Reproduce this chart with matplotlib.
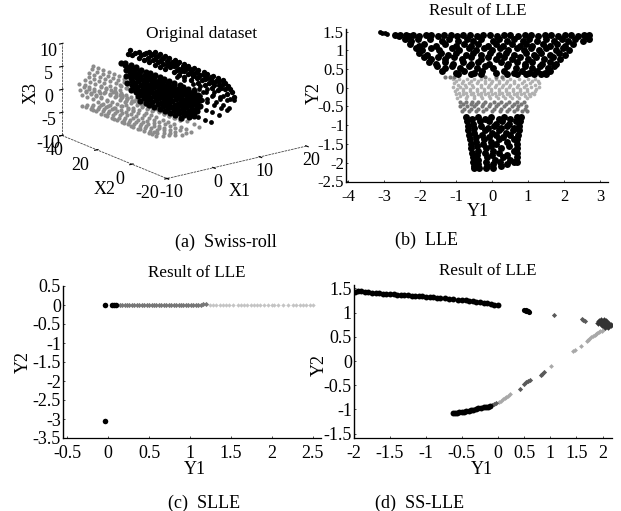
import numpy as np
import matplotlib
matplotlib.use("Agg")
import matplotlib.pyplot as plt
from matplotlib.scale import FuncScale

plt.rcParams['font.family'] = ['Liberation Serif', 'DejaVu Serif']
plt.rcParams['font.size'] = 13
plt.rcParams['axes.unicode_minus'] = False
W, H = 621, 511

# ---------- (a) Swiss roll: strands of (X1, X3, X2 values) ----------
roll_top = [
    (4.3, 7.1, [-14,-11,-8.5,-5,-3,0,2.5,6,8,11,13.5,17,19,22,25]),
    (4.3, 6.6, [-15,-12,-7,-3,1,5,9,12,15,20,23,26,28]),
    (4.3, 6.2, [-17,-14,-10,-7,-5,-1,2,4,7,9,13,15,18,21,24,27,30]),
    (4.3, 5.7, [-18,-12,-8,-4,0,5,8,11,14,17,22,25,31,34]),
    (4.3, 5.3, [-19,-15,-13,-9,-6,-2,1,3,6,10,12,16,18,20,23,26,29,33,36,39]),
    (4.3, 4.4, [-20,-16,-11,-8,-4,0,4,8,11,14,19,22,25,28,31,34,38,40]),
]
roll_core = [
    (-2.0, 6.2, [-14,-11,-8,-6,-3,0,3,5,8,11,13,16,19,22,25]),
    (-1.8, 5.6, [-16,-13,-10,-7,-2,1,4,6,9,12,14,17,20,23,26,28]),
    (-1.6, 5.1, [-15,-12,-9,-6,-4,-1,2,5,7,10,13,15,18,21,24]),
    (-1.8, 4.6, [-17,-14,-11,-8,-5,-2,0,3,6,8,11,14,17,20,23,25]),
    (-2.0, 4.1, [-16,-13,-10,-7,-4,-1,2,4,7,10,13,16,19,22]),
    (-2.2, 3.6, [-18,-15,-12,-9,-6,-3,0,3,5,8,11,14,17,21,24]),
    (-2.5, 3.1, [-17,-14,-11,-8,-5,-2,1,4,6,9,12,15,18,20]),
    (-2.8, 2.6, [-18,-15,-12,-9,-7,-4,-1,2,5,7,10,13,16,19,22]),
    (-3.1, 2.2, [-17,-14,-11,-8,-6,-3,0,3,6,9,11,14,17]),
    (-3.4, 1.7, [-18,-15,-12,-9,-5,-2,1,4,7,10,12,15,18]),
    (-3.7, 1.3, [-16,-13,-10,-7,-4,-1,2,5,8,10,13]),
    (-4.8, 1.1, [-14,-11,-8,-5,-2,1,4,6,9]),
]
roll_side = [
    (4.3, 3.7, [-20,-18,-14,-9,-5,-1,3,8,12]),
    (3.6, 2.1, [-19,-16,-12,-7,-3,2,6]),
    (2.8, 1.9, [-20,-17,-13,-9,-6,0]),
    (2.9, 4.0, [-20,-16,-12,-8,-4]),
    (1.5, 4.5, [-20,-15,-10,-5]),
    (1.5, 0.9, [-19,-15,-12,-7,-3]),
    (-0.6, 0.1, [-20,-17,-13,-10]),
]
roll_gray = [
    (-9.4, -2.1, [-12,-10,-8,-5,-3,-2,1,2,4,6,7,10,12,13,16,17,19,22,24,25,28,30]),
    (-8.7, -1.9, [-14,-11,-9,-7,-4,-1,2,5,8,11,14,17,20,23,26,29]),
    (-8.1, -1.7, [-16,-13,-9,-6,-3,0,3,6,9,12,15,18,21,24,27]),
    (-7.2, -1.6, [-17,-14,-11,-8,-5,-2,1,4,7,10,13,16,19,22,25]),
    (-6.4, -1.5, [-19,-15,-12,-9,-6,-3,1,4,7,10,13,16,19,22]),
    (-5.6, -1.2, [-19,-16,-13,-10,-7,-4,-1,2,5,8,11,14,18]),
    (-4.8, -1.0, [-20,-17,-14,-10,-7,-4,0,3,6,10,13,17]),
    (-3.1, -0.3, [-20,-17,-13,-10,-6,-3,1,4,8,11]),
    (-8.3, 0.7, [4,7,10,13,16,19,22,25,28,31]),
    (-8.0, 1.7, [9,12,15,18,21,24,27,30,32]),
    (-7.7, 2.7, [12,15,18,21,24,27,30,33]),
    (-6.9, 3.1, [15,18,21,24,27,30,33]),
    (-6.0, 3.5, [14,17,20,23,26,29,32,35]),
    (-5.0, 3.8, [18,21,24,27,30,33,36]),
    (-4.1, 4.1, [20,23,26,29,32,35,38]),
    (-2.7, 1.5, [6,10,14,18,22,26]),
    (-5.8, 1.2, [2,6,10,14,18,22,26,29]),
    (-9.4, 2.2, [20,23,26,29,32]),
    (-9.4, 0.2, [12,15,18,21,24,27,30]),
    (-9.4, 1.2, [16,19,22,25,28,31]),
    (-8.3, 3.4, [-19,-16,-13,-10,-7,-4,-1,2,5,8,11,14]),
    (-7.3, 2.1, [-20,-17,-14,-11,-8,-5,-2,1,4,7,10,13]),
    (-6.5, 1.5, [-18,-15,-12,-9,-6,-3,0,3,6,9,12,15]),
    (-8.6, 2.4, [-8,-5,-2,1,4,7,10,13,16,19]),
]
x1_ticks = [-10, 0, 10, 20]
x2_ticks = [-20, 0, 20, 40]
x3_ticks = [-10, -5, 0, 5, 10]

# ---------- (b) LLE: rows of (Y2, Y1 values) ----------
lle_streak_x = [-3.12, -3.05, -2.98, -2.92]
lle_streak_y = [1.49, 1.47, 1.45, 1.44]
lle_top = [
    (1.42, [-2.7,-2.55,-2.4,-2.2,-1.85,-1.7,-1.33,-1.15,-0.8,-0.62,-0.25,-0.05,0.32,0.5,0.9,1.08,1.46,1.65,2.02,2.2,2.55,2.7]),
    (1.37, [-2.6,-2.3,-2.02,-1.5,-0.98,-0.42,0.14,0.72,1.28,1.82,2.38,2.62]),
    (1.30, [-2.42,-2.05,-1.72,-1.2,-0.7,-0.3,0.2,0.62,1.02,1.5,1.95,2.3,2.68]),
    (1.24, [-2.25,-1.4,-0.95,-0.52,0.02,0.42,0.85,1.25,1.72,2.12,2.52]),
    (1.18, [-2.28,-1.88,-1.3,-0.78,-0.4,0.1,0.55,0.95,1.4,1.8,2.25]),
    (1.12, [-2.02,-1.55,-1.0,-0.58,-0.12,0.3,0.78,1.12,1.62,2.02]),
    (1.06, [-2.12,-1.7,-1.12,-0.65,-0.22,0.22,0.7,1.08,1.5,1.98]),
    (1.00, [-1.95,-1.48,-0.92,-0.45,0.0,0.45,0.88,1.3,1.78,2.15]),
    (0.94, [-2.02,-1.42,-1.0,-0.52,-0.05,0.38,0.95,1.35,1.85]),
    (0.88, [-1.82,-1.22,-0.72,-0.3,0.18,0.62,1.15,1.62,2.02]),
    (0.82, [-1.9,-1.5,-1.05,-0.6,-0.12,0.32,0.78,1.22,1.68]),
    (0.76, [-1.7,-1.3,-0.85,-0.32,0.12,0.55,1.0,1.45,1.88]),
    (0.70, [-1.75,-1.32,-0.8,-0.38,0.25,0.7,1.12,1.6]),
    (0.64, [-1.55,-1.1,-0.58,-0.1,0.45,0.92,1.38,1.78]),
    (0.58, [-1.52,-1.12,-0.65,-0.2,0.4,0.9,1.32,1.72]),
    (0.52, [-1.3,-0.9,-0.42,0.02,0.65,1.1,1.55]),
    (0.46, [-1.4,-0.78,-0.28,0.32,0.82,1.25,1.62]),
    (0.40, [-1.0,-0.5,0.12,0.62,1.02,1.48]),
    (0.36, [-0.95,-0.6,-0.3,0.42,0.7,0.95,1.15,1.35,1.5]),
]
lle_lower = [
    (-0.78, [-0.72,-0.38,-0.02,0.32,0.68,0.8]),
    (-0.84, [-0.55,-0.2,0.18,0.5]),
    (-0.90, [-0.7,-0.35,-0.1,0.28,0.66,0.78]),
    (-0.96, [-0.52,0.1,0.48]),
    (-1.02, [-0.68,-0.3,0.05,0.42,0.76]),
    (-1.08, [-0.5,-0.12,0.25,0.62]),
    (-1.14, [-0.66,-0.2,0.18,0.58,0.74]),
    (-1.20, [-0.5,0.0,0.38]),
    (-1.26, [-0.64,-0.28,0.12,0.5,0.72]),
    (-1.32, [-0.46,-0.08,0.3]),
    (-1.38, [-0.62,-0.22,0.2,0.6,0.7]),
    (-1.44, [-0.45,-0.02,0.42]),
    (-1.50, [-0.6,-0.25,0.12,0.7]),
    (-1.56, [-0.42,-0.02,0.48]),
    (-1.62, [-0.58,-0.18,0.25,0.7]),
    (-1.68, [-0.4,0.02,0.6]),
    (-1.74, [-0.56,-0.2,0.2,0.68]),
    (-1.80, [-0.42,0.0,0.42]),
    (-1.86, [-0.54,-0.15,0.3,0.7]),
    (-1.92, [-0.38,0.08,0.5]),
    (-1.98, [-0.52,-0.18,0.22,0.6,0.7]),
    (-2.04, [-0.38,0.02,0.42]),
    (-2.10, [-0.5,-0.15,0.25]),
    (-2.15, [-0.5,-0.36,-0.16,0.02]),
]
lle_gray_light = [
    (0.24, [-1.1,-0.92,-0.7,-0.5,-0.32,-0.1,0.1,0.3,0.5,0.75,1.0,1.2]),
    (0.18, [-1.0,-0.8,-0.6,-0.4,-0.2,0.0,0.2,0.4,0.62,0.88,1.1,1.28]),
    (0.12, [-1.05,-0.85,-0.65,-0.42,-0.2,-0.02,0.2,0.38,0.6,0.82,1.05,1.3]),
    (0.07, [-0.95,-0.75,-0.55,-0.3,-0.1,0.1,0.3,0.5,0.72,0.95,1.18]),
    (0.02, [-1.08,-0.9,-0.72,-0.52,-0.32,-0.12,0.08,0.28,0.48,0.68,0.88,1.08,1.3]),
    (-0.03, [-0.98,-0.8,-0.62,-0.42,-0.22,-0.02,0.18,0.38,0.58,0.78,0.98,1.22]),
    (-0.08, [-1.02,-0.82,-0.62,-0.42,-0.22,-0.02,0.18,0.38,0.58,0.78,0.98,1.2]),
    (-0.13, [-0.92,-0.72,-0.52,-0.32,-0.12,0.08,0.28,0.48,0.68,0.88,1.1]),
    (-0.18, [-1.0,-0.8,-0.6,-0.4,-0.2,0.0,0.2,0.4,0.6,0.8,1.02,1.15]),
    (-0.23, [-0.9,-0.7,-0.5,-0.3,-0.1,0.1,0.3,0.5,0.7,0.92,1.05]),
    (-0.28, [-0.98,-0.72,-0.5,-0.28,-0.05,0.15,0.35,0.55,0.75,0.98]),
]
lle_gray_dark = [
    (0.30, [-1.3,-1.18,-1.05,-0.2,0.1,0.28]),
    (-0.38, [-0.9,-0.72,-0.55,-0.38,-0.2,0.05,0.25,0.48,0.7,0.88]),
    (-0.44, [-0.8,-0.6,-0.45,-0.25,-0.05,0.15,0.38,0.6,0.8]),
    (-0.50, [-0.88,-0.7,-0.5,-0.28,-0.1,0.12,0.32,0.55,0.72,0.95]),
    (-0.56, [-0.78,-0.58,-0.38,-0.18,0.05,0.25,0.48,0.68,0.9]),
    (-0.62, [-0.85,-0.65,-0.45,-0.25,0.0,0.22,0.42,0.6,0.82,0.98]),
]
lle_xticks = [-4, -3, -2, -1, 0, 1, 2, 3]
lle_yticks = [1.5, 1, 0.5, 0, -0.5, -1, -1.5, -2, -2.5]

# ---------- (c) SLLE ----------
slle_black_x = [-0.04, 0.05, 0.07, 0.09, -0.04]
slle_black_y = [0.0, 0.0, 0.0, 0.0, -3.05]
slle_dark_x = [0.14,0.17,0.2,0.23,0.26,0.29,0.32,0.35,0.38,0.41,0.44,0.47,0.5,0.53,0.56,0.59,0.62,0.65,0.68,0.71,0.74,0.77,0.8,0.83,0.86,0.89,0.92,0.95,0.98,1.01,1.04,1.07,1.1,1.13,1.16,1.2]
slle_dark_y = [0.0,-0.01,0.0,-0.01,0.0,0.0,0.01,0.0,-0.01,0.0,0.0,0.0,0.0,0.0,-0.01,0.0,0.0,-0.01,0.0,0.0,-0.01,-0.01,-0.01,0.0,-0.01,-0.01,0.0,-0.01,0.0,0.0,0.0,0.0,0.01,0.01,0.02,0.02]
slle_light_x = [1.24,1.28,1.32,1.36,1.4,1.44,1.48,1.52,1.58,1.62,1.66,1.7,1.74,1.78,1.82,1.86,1.9,1.95,2.0,2.03,2.08,2.14,2.2,2.26,2.3,2.34,2.38,2.42,2.46,2.5]
slle_light_y = [0.01,0.01,0.0,0.0,0.0,0.0,0.0,0.01,0.0,0.0,0.0,0.0,0.0,0.0,0.0,0.0,0.0,0.0,0.0,0.0,0.0,0.0,0.0,0.0,-0.01,0.0,0.0,-0.01,0.0,0.0]
slle_xticks = [-0.5, 0, 0.5, 1, 1.5, 2, 2.5]
slle_yticks = [0.5, 0, -0.5, -1, -1.5, -2, -2.5, -3, -3.5]

# ---------- (d) SS-LLE ----------
ss_upper_x = [-1.98,-1.94,-1.9,-1.85,-1.8,-1.75,-1.7,-1.65,-1.6,-1.55,-1.5,-1.45,-1.4,-1.35,-1.3,-1.25,-1.2,-1.15,-1.1,-1.05,-1.0,-0.95,-0.9,-0.85,-0.8,-0.74,-0.68,-0.62,-0.56,-0.5,-0.45,-0.4,-0.35,-0.3,-0.25,-0.2,-0.15,-0.1,-0.05,0.0]
ss_upper_y = [1.43,1.44,1.44,1.43,1.42,1.41,1.41,1.4,1.39,1.39,1.38,1.38,1.37,1.37,1.36,1.36,1.35,1.35,1.34,1.34,1.33,1.33,1.32,1.31,1.3,1.3,1.29,1.28,1.27,1.26,1.25,1.24,1.23,1.22,1.21,1.2,1.19,1.18,1.16,1.15]
ss_lower_x = [-0.62,-0.6,-0.57,-0.54,-0.5,-0.47,-0.44,-0.4,-0.37,-0.34,-0.3,-0.27,-0.24,-0.2,-0.17,-0.14,-0.11]
ss_lower_y = [-1.07,-1.07,-1.07,-1.06,-1.05,-1.05,-1.04,-1.03,-1.02,-1.01,-1.0,-0.98,-0.97,-0.96,-0.95,-0.94,-0.92]
ss_black_x = [0.5, 0.53, 0.57, 0.6, 0.54]
ss_black_y = [1.05, 1.04, 1.03, 1.02, 1.06]
ss_mid_x = [-0.08,-0.05,-0.02,1.07,1.6,1.63,1.66,0.42,0.5,0.54,0.58,0.62,0.82,0.85,0.88]
ss_mid_y = [-0.91,-0.89,-0.87,0.96,0.87,0.85,0.83,-0.57,-0.47,-0.44,-0.41,-0.39,-0.28,-0.26,-0.23]
ss_light_x = [0.02,0.06,0.1,0.13,0.16,0.2,0.24,1.01,1.44,1.47,1.58,1.7,1.72,1.75,1.78,1.82,1.85,1.88,1.9,1.93,1.96,1.98,2.02,2.05,2.08,2.1,2.12]
ss_light_y = [-0.84,-0.82,-0.79,-0.77,-0.75,-0.72,-0.69,-0.11,0.2,0.22,0.31,0.42,0.44,0.46,0.49,0.51,0.53,0.55,0.57,0.59,0.61,0.63,0.66,0.68,0.7,0.73,0.75]
ss_knot_x = [1.93,1.97,2.02,2.06,1.92,1.97,2.02,2.07,2.12,1.98,2.03,2.08,2.13,2.16,2.05,2.1]
ss_knot_y = [0.83,0.84,0.84,0.83,0.78,0.79,0.79,0.78,0.77,0.74,0.74,0.74,0.74,0.75,0.7,0.7]
ss_xticks = [-2, -1.5, -1, -0.5, 0, 0.5, 1, 1.5, 2]
ss_yticks = [1.5, 1, 0.5, 0, -0.5, -1, -1.5]
ss_scale_in = [-2, 0, 2.2]       # tick spacing in the source is uneven
ss_scale_out = [-2, 0, 1.6]


def rows(r):
    xs = [x for y, v in r for x in v]
    ys = [y for y, v in r for _ in v]
    return xs, ys


def strands(r):
    a, b, c = [], [], []
    for x1, x3, x2s in r:
        for x2 in x2s:
            a.append(x1); b.append(x2); c.append(x3)
    return a, b, c


def make_ax(l, t, r, b, size=13):
    ax = fig.add_axes([l / W, 1 - b / H, (r - l) / W, (b - t) / H])
    for s in ('top', 'right'):
        ax.spines[s].set_visible(False)
    ax.spines['left'].set_linewidth(1.0)
    ax.spines['bottom'].set_linewidth(0.9)
    ax.tick_params(direction='in', length=1.5, width=0.5, labelsize=size)
    ax.tick_params(axis='x', pad=5)
    ax.tick_params(axis='y', pad=1.5)
    return ax


def style(ax, title, tx, ty, xl, xlx, xly, yl, ylx, yly, rect):
    l, t, r, b = rect
    ax.set_title(title, x=(tx - l) / (r - l), y=(b - ty) / (b - t), va='center', fontsize=12.3)
    ax.set_xlabel(xl, fontsize=13)
    ax.set_ylabel(yl, fontsize=13)
    ax.xaxis.set_label_coords((xlx - l) / (r - l), (b - xly) / (b - t))
    ax.yaxis.set_label_coords((ylx - l) / (r - l), (b - yly) / (b - t))
    ax.xaxis.label.set_va('center')
    ax.yaxis.label.set_va('center')


fig = plt.figure(figsize=(W / 100, H / 100), dpi=100, facecolor='white')

# (a)
ax = fig.add_axes([7 / W, 0.568, 0.56, 0.48], projection='3d', proj_type='ortho')
ax.computed_zorder = False
ax.view_init(elev=18, azim=-127)
ax.set_box_aspect((179, 179, 99), zoom=1.05)
ax.patch.set_alpha(0)
ax.grid(False)
for axis in (ax.xaxis, ax.yaxis, ax.zaxis):
    axis.set_pane_color((1, 1, 1, 0))
    axis.pane.set_edgecolor((1, 1, 1, 0))
    axis.line.set_color('#444444')
    axis.line.set_linewidth(0.6)
    axis.line.set_linestyle((0, (3, 1)))
a, b, c = strands(roll_gray)
ax.scatter(a, b, c, s=9, c='#8c8c8c', linewidths=0, depthshade=False, zorder=1)
a, b, c = strands(roll_core)
ax.scatter(a, b, c, s=20, c='black', linewidths=0, depthshade=False, zorder=2)
a, b, c = strands(roll_side)
ax.scatter(a, b, c, s=12, c='black', linewidths=0, depthshade=False, zorder=3)
a, b, c = strands(roll_top)
ax.scatter(a, b, c, s=15, c='black', linewidths=0, depthshade=False, zorder=4)
ax.set_xlim(-10, 20); ax.set_ylim(-20, 40); ax.set_zlim(-10, 10)
ax.set_xticks(x1_ticks); ax.set_yticks(x2_ticks); ax.set_zticks(x3_ticks)
ax.tick_params(labelsize=13, length=0)
ax.tick_params(axis='x', pad=-4)
ax.tick_params(axis='y', pad=-3)
ax.tick_params(axis='z', pad=-3)
for tick in ax.yaxis.get_major_ticks()[:3]:
    tick.label1.set_ha('right')
fig.text(202 / W, 1 - 34 / H, 'Original dataset', ha='center', va='center', fontsize=12.5)
fig.text(240 / W, 1 - 191 / H, 'X1', ha='center', va='center', fontsize=13)
fig.text(105 / W, 1 - 190 / H, 'X2', ha='center', va='center', fontsize=13)
fig.text(31 / W, 1 - 93 / H, 'X3', ha='center', va='center', fontsize=13, rotation=90)

# (b)
rect = (346, 29, 608, 182)
ax = make_ax(*rect, size=12)
x, y = rows(lle_gray_light)
ax.scatter(x, y, s=7, c='#b0b0b0', linewidths=0)
x, y = rows(lle_gray_dark)
ax.scatter(x, y, s=9, c='#777777', linewidths=0)
x, y = rows(lle_top)
ax.scatter(x, y, s=25, c='black', linewidths=0)
x, y = rows(lle_lower)
ax.scatter(x, y, s=25, c='black', linewidths=0)
ax.scatter(lle_streak_x, lle_streak_y, s=12, c='black', linewidths=0)
ax.set_xlim(-4.06, 3.22); ax.set_ylim(-2.52, 1.57)
ax.set_xticks(lle_xticks); ax.set_yticks(lle_yticks)
ax.set_yticklabels([f'{v:g}' for v in lle_yticks])
style(ax, 'Result of LLE', 478, 19, 'Y1', 478, 212, 'Y2', 314, 93, rect)

# (c)
rect = (63, 286, 321, 438)
ax = make_ax(*rect)
ax.scatter(slle_light_x, slle_light_y, s=5, c='#c4c4c4', marker='D', linewidths=0)
ax.scatter(slle_dark_x, slle_dark_y, s=7, c='#777777', marker='D', linewidths=0)
ax.scatter(slle_black_x, slle_black_y, s=16, c='black', linewidths=0)
ax.set_xlim(-0.552, 2.6); ax.set_ylim(-3.5, 0.5)
ax.set_xticks(slle_xticks); ax.set_yticks(slle_yticks)
ax.set_xticklabels([f'{v:g}' for v in slle_xticks])
ax.set_yticklabels([f'{v:g}' for v in slle_yticks])
style(ax, 'Result of LLE', 197, 281, 'Y1', 195, 469, 'Y2', 23, 362, rect)

# (d)
rect = (354, 285, 612, 438)
ax = make_ax(*rect)
ax.set_xscale(FuncScale(ax.xaxis, (lambda v: np.interp(v, ss_scale_in, ss_scale_out),
                                   lambda v: np.interp(v, ss_scale_out, ss_scale_in))))
ax.scatter(ss_light_x, ss_light_y, s=6, c='#a8a8a8', marker='D', linewidths=0)
ax.scatter(ss_mid_x, ss_mid_y, s=7, c='#5a5a5a', marker='D', linewidths=0)
ax.scatter(ss_knot_x, ss_knot_y, s=11, c='#333333', marker='D', linewidths=0)
ax.scatter(ss_upper_x, ss_upper_y, s=18, c='black', linewidths=0)
ax.scatter(ss_lower_x, ss_lower_y, s=18, c='black', linewidths=0)
ax.scatter(ss_black_x, ss_black_y, s=14, c='black', linewidths=0)
ax.set_xlim(-2, 2.18); ax.set_ylim(-1.59, 1.57)
ax.set_xticks(ss_xticks); ax.set_yticks(ss_yticks)
ax.set_xticklabels([f'{v:g}' for v in ss_xticks])
ax.set_yticklabels([f'{v:g}' for v in ss_yticks])
ax.minorticks_off()
style(ax, 'Result of LLE', 488, 279, 'Y1', 482, 469, 'Y2', 319, 365, rect)

# captions
for txt, cx, cy in [('(a)  Swiss-roll', 226, 242), ('(b)  LLE', 427, 240),
                    ('(c)  SLLE', 204, 503), ('(d)  SS-LLE', 420, 503)]:
    fig.text(cx / W, 1 - cy / H, txt, ha='center', va='center', fontsize=13)

fig.savefig('out.png', dpi=100)
